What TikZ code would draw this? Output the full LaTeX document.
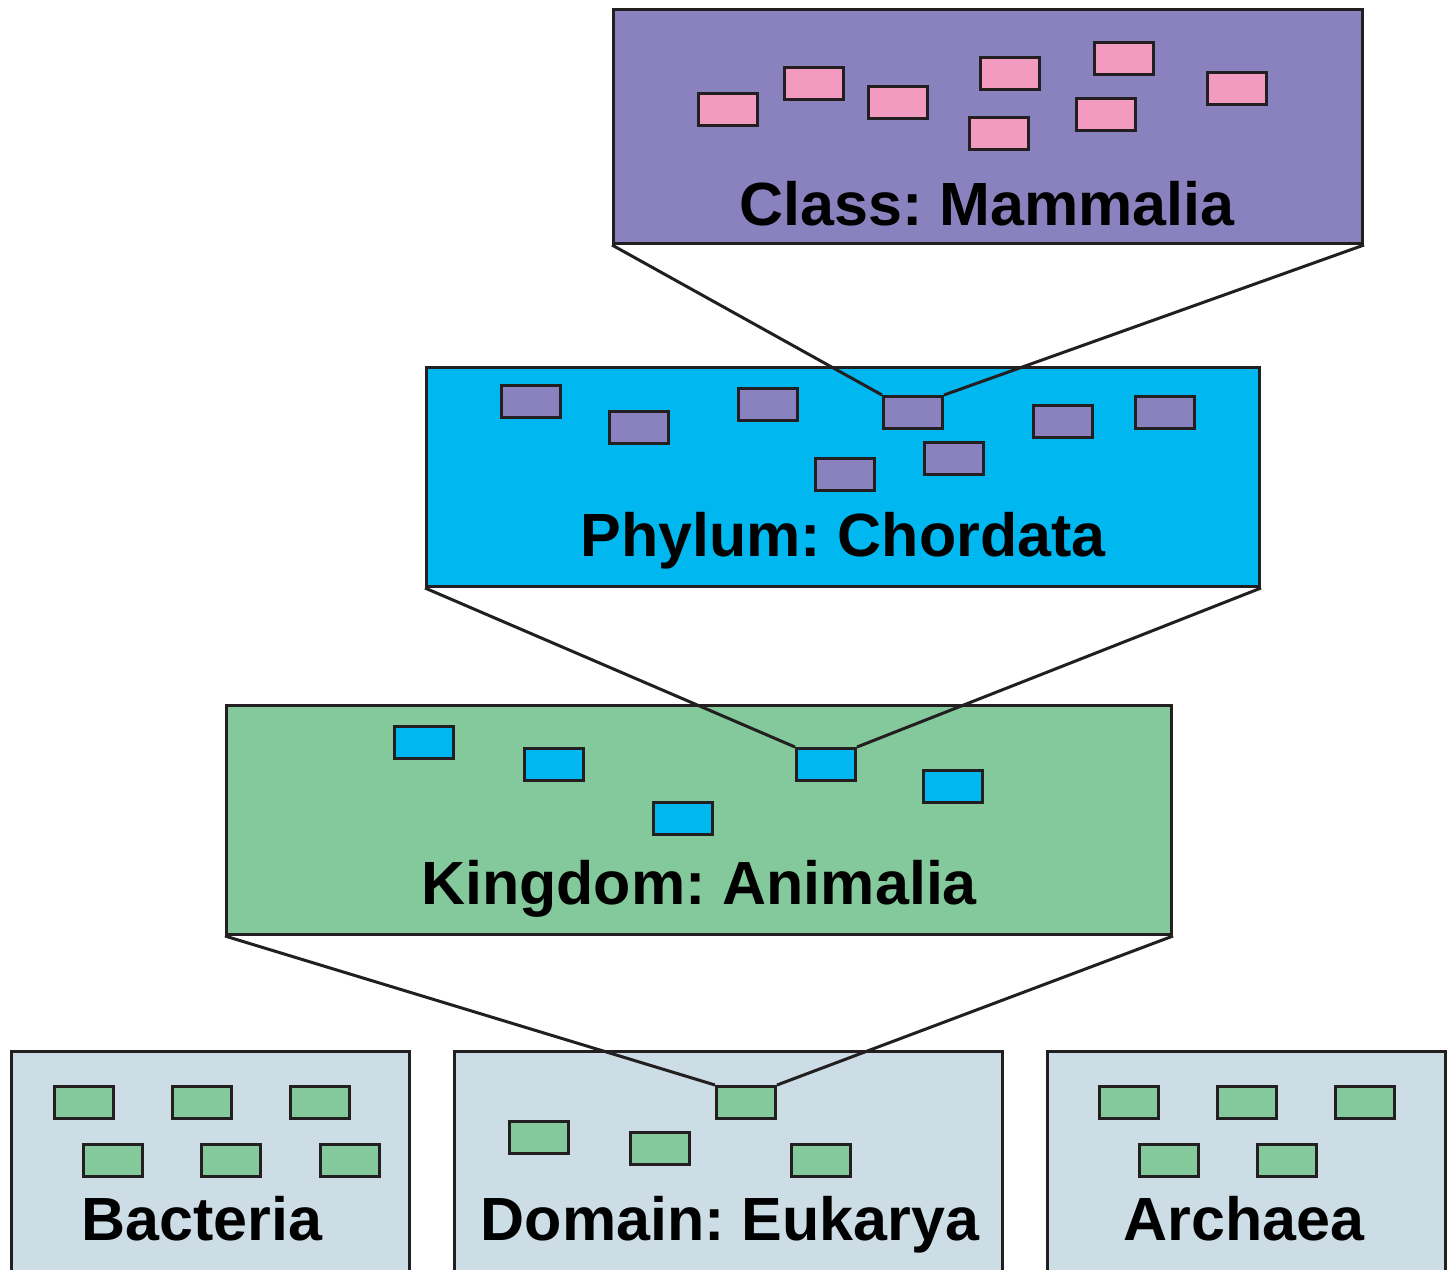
\documentclass[tikz,border=0pt]{standalone}
\usepackage{fontspec}
\setmainfont{Liberation Sans}
\frenchspacing
\definecolor{ink}{HTML}{231F20}
\definecolor{classfill}{HTML}{8A82BE}
\definecolor{pinkcell}{HTML}{F39AC1}
\definecolor{phylumfill}{HTML}{00B8EF}
\definecolor{kingfill}{HTML}{84C99B}
\definecolor{domfill}{HTML}{CCDDE6}
\tikzset{
  panel/.style={draw=ink, line width=3pt, anchor=north west, inner sep=0pt},
  cell/.style={draw=ink, line width=3pt, anchor=north west, inner sep=0pt,
               minimum width=59pt, minimum height=32pt},
  link/.style={draw=ink, line width=3pt},
  rank/.style={anchor=base, inner sep=0pt,
               font=\fontsize{61pt}{61pt}\selectfont\bfseries}
}
\begin{document}
\begin{tikzpicture}[x=1pt, y=-1pt]
\useasboundingbox (0,0) rectangle (1447,1269);
% rank panels
\node[panel, fill=classfill, minimum width=749pt, minimum height=234pt] (class) at (612,8) {};
\node[panel, fill=phylumfill, minimum width=833pt, minimum height=219pt] (phylum) at (425,366) {};
\node[panel, fill=kingfill, minimum width=945pt, minimum height=229pt] (kingdom) at (225,704) {};
\node[panel, fill=domfill, minimum width=398pt, minimum height=230pt] (bacteria) at (10,1050) {};
\node[panel, fill=domfill, minimum width=548pt, minimum height=230pt] (eukarya) at (453,1050) {};
\node[panel, fill=domfill, minimum width=398pt, minimum height=230pt] (archaea) at (1046,1050) {};

% members of the class
\node[cell, fill=pinkcell] (c1) at (697,92) {};
\node[cell, fill=pinkcell] (c2) at (783,66) {};
\node[cell, fill=pinkcell] (c3) at (867,85) {};
\node[cell, fill=pinkcell] (c4) at (979,56) {};
\node[cell, fill=pinkcell] (c5) at (1093,41) {};
\node[cell, fill=pinkcell] (c6) at (1075,97) {};
\node[cell, fill=pinkcell] (c7) at (968,116) {};
\node[cell, fill=pinkcell] (c8) at (1206,71) {};

% members of the phylum
\node[cell, fill=classfill] (p1) at (500,384) {};
\node[cell, fill=classfill] (p2) at (608,410) {};
\node[cell, fill=classfill] (p3) at (737,387) {};
\node[cell, fill=classfill] (p4) at (882,395) {};
\node[cell, fill=classfill] (p5) at (923,441) {};
\node[cell, fill=classfill] (p6) at (814,457) {};
\node[cell, fill=classfill] (p7) at (1032,404) {};
\node[cell, fill=classfill] (p8) at (1134,395) {};

% members of the kingdom
\node[cell, fill=phylumfill] (k1) at (393,725) {};
\node[cell, fill=phylumfill] (k2) at (523,747) {};
\node[cell, fill=phylumfill] (k3) at (795,747) {};
\node[cell, fill=phylumfill] (k4) at (922,769) {};
\node[cell, fill=phylumfill] (k5) at (652,801) {};

% members of the domains
\node[cell, fill=kingfill] (b1) at (53,1085) {};
\node[cell, fill=kingfill] (b2) at (171,1085) {};
\node[cell, fill=kingfill] (b3) at (289,1085) {};
\node[cell, fill=kingfill] (b4) at (82,1143) {};
\node[cell, fill=kingfill] (b5) at (200,1143) {};
\node[cell, fill=kingfill] (b6) at (319,1143) {};

\node[cell, fill=kingfill] (e1) at (715,1085) {};
\node[cell, fill=kingfill] (e2) at (508,1120) {};
\node[cell, fill=kingfill] (e3) at (629,1131) {};
\node[cell, fill=kingfill] (e4) at (790,1143) {};

\node[cell, fill=kingfill] (a1) at (1098,1085) {};
\node[cell, fill=kingfill] (a2) at (1216,1085) {};
\node[cell, fill=kingfill] (a3) at (1334,1085) {};
\node[cell, fill=kingfill] (a4) at (1138,1143) {};
\node[cell, fill=kingfill] (a5) at (1256,1143) {};

% zoom-out connectors
\draw[link] (class.south west) -- (p4.north west);
\draw[link] (class.south east) -- (p4.north east);
\draw[link] (phylum.south west) -- (k3.north west);
\draw[link] (phylum.south east) -- (k3.north east);
\draw[link] (kingdom.south west) -- (e1.north west);
\draw[link] (kingdom.south east) -- (e1.north east);

% rank labels
\node[rank] (tclass) at (987,225) {Class: Mammalia};
\node[rank] (tphylum) at (843,556) {Phylum: Chordata};
\node[rank] (tkingdom) at (699,904) {Kingdom: Animalia};
\node[rank] (tbacteria) at (202,1240) {Bacteria};
\node[rank] (teukarya) at (730,1240) {Domain: Eukarya};
\node[rank] (tarchaea) at (1244,1240) {Archaea};
\end{tikzpicture}
\end{document}
